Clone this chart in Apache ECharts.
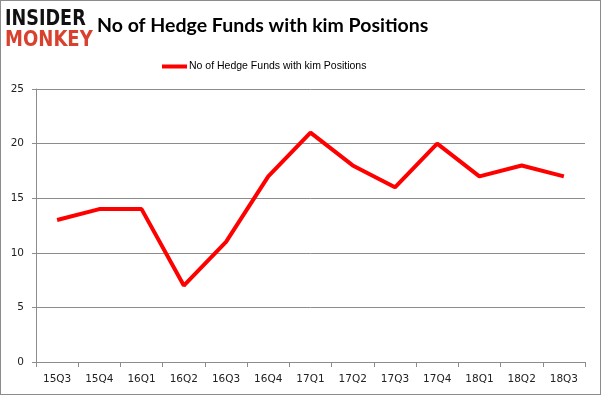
<!DOCTYPE html>
<html><head><meta charset="utf-8">
<script src="https://cdn.jsdelivr.net/npm/echarts@6/dist/echarts.min.js"></script>
<style>html,body{margin:0;padding:0;background:#fff}#c{width:601px;height:395px;box-sizing:border-box;border:1px solid #8c8c8c}</style>
</head><body><div id="c"></div>
<script>
const categories = ['15Q3','15Q4','16Q1','16Q2','16Q3','16Q4','17Q1','17Q2','17Q3','17Q4','18Q1','18Q2','18Q3'];
const funds = [13,14,14,7,11,17,21,18,16,20,17,18,17];
const seriesName = 'No of Hedge Funds with kim Positions';
const chart = echarts.init(document.getElementById('c'));
chart.setOption({
  animation:false,
  title:{text:'No of Hedge Funds with kim Positions',left:91,top:10,textStyle:{fontFamily:'Lato',fontWeight:'bold',fontSize:19.5,color:'#000'}},
  graphic:[
    {type:'text',x:4,y:7,scaleX:0.8,style:{text:'INSIDER',font:'900 22px "DejaVu Sans"',fill:'#111'}},
    {type:'text',x:4,y:28,scaleX:0.82,style:{text:'MONKEY',font:'900 22px "DejaVu Sans"',fill:'#d9412e'}}
  ],
  legend:{top:55,left:156,itemWidth:25,itemHeight:4,itemGap:2,icon:'rect',textStyle:{fontFamily:'Liberation Sans',fontSize:10.5,color:'#000',padding:[0,0,0,-3]},data:[seriesName]},
  grid:{left:35,right:15,top:88,bottom:32,containLabel:false},
  xAxis:{type:'category',data:categories,boundaryGap:true,
    axisLine:{lineStyle:{color:'#8c8c8c'}},axisTick:{show:true,length:5,lineStyle:{color:'#8c8c8c'}},
    axisLabel:{fontFamily:'DejaVu Sans',fontSize:10.5,color:'#222',margin:12}},
  yAxis:{type:'value',min:0,max:25,interval:5,
    axisLine:{show:true,lineStyle:{color:'#8c8c8c'}},axisTick:{show:true,length:4,inside:false,lineStyle:{color:'#8c8c8c'}},
    splitLine:{lineStyle:{color:'#8c8c8c'}},
    axisLabel:{fontFamily:'DejaVu Sans',fontSize:10.5,color:'#222',margin:12}},
  series:[{name:seriesName,type:'line',data:funds,symbol:'none',lineStyle:{color:'#ff0000',width:4},itemStyle:{color:'#ff0000'}}]
});
</script></body></html>
